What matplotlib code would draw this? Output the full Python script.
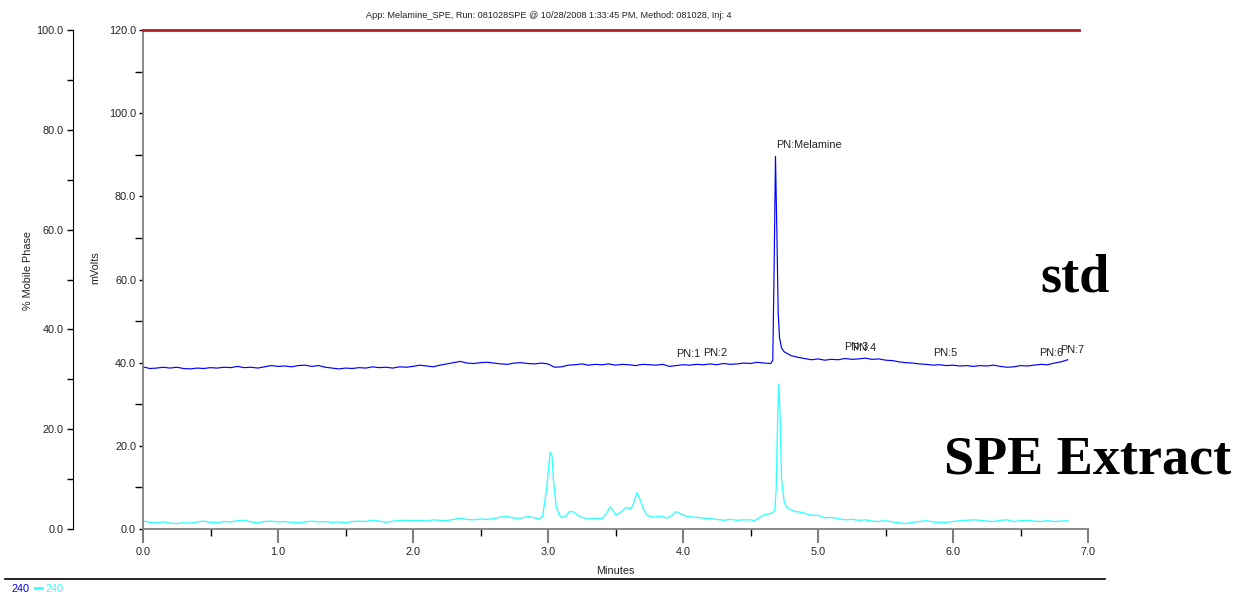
import matplotlib
matplotlib.use("Agg")
import matplotlib.pyplot as plt
import numpy as np
from matplotlib.lines import Line2D
from matplotlib.ticker import MultipleLocator, FormatStrFormatter

#--- data ---
std_time = [0.00, 0.05, 0.10, 0.15, 0.20, 0.25, 0.30, 0.35, 0.40, 0.45, 0.50, 0.55, 0.60, 0.65,
            0.70, 0.75, 0.80, 0.85, 0.90, 0.95, 1.00, 1.05, 1.10, 1.15, 1.20, 1.25, 1.30, 1.35,
            1.40, 1.45, 1.50, 1.55, 1.60, 1.65, 1.70, 1.75, 1.80, 1.85, 1.90, 1.95, 2.00, 2.05,
            2.10, 2.15, 2.20, 2.25, 2.30, 2.35, 2.40, 2.45, 2.50, 2.55, 2.60, 2.65, 2.70, 2.75,
            2.80, 2.85, 2.90, 2.95, 3.00, 3.03, 3.05, 3.10, 3.15, 3.20, 3.25, 3.30, 3.35, 3.40,
            3.45, 3.50, 3.55, 3.60, 3.65, 3.70, 3.75, 3.80, 3.85, 3.90, 3.95, 4.00, 4.05, 4.10,
            4.15, 4.20, 4.25, 4.30, 4.35, 4.40, 4.45, 4.50, 4.55, 4.60, 4.65, 4.665, 4.675, 4.685,
            4.695, 4.705, 4.715, 4.73, 4.75, 4.80, 4.85, 4.90, 4.95, 5.00, 5.05, 5.10, 5.15, 5.20,
            5.25, 5.30, 5.35, 5.40, 5.45, 5.50, 5.55, 5.60, 5.65, 5.70, 5.75, 5.80, 5.85, 5.90,
            5.95, 6.00, 6.05, 6.10, 6.15, 6.20, 6.25, 6.30, 6.35, 6.40, 6.45, 6.50, 6.55, 6.60,
            6.65, 6.70, 6.75, 6.80, 6.85]
std_mv = [39.0, 38.6, 38.7, 38.9, 38.7, 38.9, 38.6, 38.5, 38.7, 38.6, 38.8, 38.7, 38.9, 38.8,
          39.1, 38.8, 38.9, 38.7, 39.0, 39.3, 39.1, 39.2, 39.0, 39.3, 39.4, 39.1, 39.3, 38.9,
          38.7, 38.5, 38.7, 38.6, 38.8, 38.7, 39.0, 38.8, 38.9, 38.7, 39.0, 38.9, 39.1, 39.4,
          39.2, 39.0, 39.4, 39.7, 40.0, 40.3, 39.9, 39.8, 40.0, 40.1, 39.9, 39.7, 39.6, 39.9,
          40.0, 39.8, 39.7, 39.9, 39.7, 39.2, 38.9, 39.0, 39.4, 39.5, 39.7, 39.4, 39.6, 39.5,
          39.7, 39.4, 39.6, 39.5, 39.3, 39.6, 39.5, 39.4, 39.6, 39.1, 39.3, 39.5, 39.4, 39.6,
          39.5, 39.7, 39.5, 39.8, 39.6, 39.7, 39.9, 39.8, 40.1, 39.9, 39.8, 40.6, 63.0, 89.6,
          72.0, 52.0, 46.0, 43.5, 42.6, 41.7, 41.3, 41.0, 40.7, 40.9, 40.6, 40.8, 40.7, 41.0,
          40.8, 40.9, 41.1, 40.8, 40.9, 40.6, 40.5, 40.2, 40.0, 39.9, 39.7, 39.6, 39.4, 39.5,
          39.3, 39.4, 39.2, 39.3, 39.1, 39.3, 39.2, 39.4, 39.1, 38.9, 39.0, 39.3, 39.2, 39.4,
          39.6, 39.5, 39.9, 40.2, 40.7]

spe_time = [0.00, 0.05, 0.10, 0.15, 0.20, 0.25, 0.30, 0.35, 0.40, 0.45, 0.50, 0.55, 0.60, 0.65,
            0.70, 0.75, 0.80, 0.85, 0.90, 0.95, 1.00, 1.05, 1.10, 1.15, 1.20, 1.25, 1.30, 1.35,
            1.40, 1.45, 1.50, 1.55, 1.60, 1.65, 1.70, 1.75, 1.80, 1.85, 1.90, 1.95, 2.00, 2.05,
            2.10, 2.15, 2.20, 2.25, 2.30, 2.35, 2.40, 2.45, 2.50, 2.55, 2.60, 2.65, 2.70, 2.75,
            2.80, 2.85, 2.90, 2.93, 2.96, 2.99, 3.015, 3.03, 3.04, 3.06, 3.08, 3.10, 3.13, 3.16,
            3.19, 3.22, 3.25, 3.30, 3.35, 3.40, 3.43, 3.46, 3.48, 3.50, 3.53, 3.56, 3.58, 3.61,
            3.63, 3.66, 3.69, 3.71, 3.73, 3.76, 3.80, 3.84, 3.88, 3.92, 3.95, 3.98, 4.02, 4.06,
            4.10, 4.15, 4.20, 4.25, 4.30, 4.35, 4.40, 4.45, 4.50, 4.53, 4.56, 4.60, 4.63, 4.66,
            4.68, 4.69, 4.70, 4.71, 4.72, 4.73, 4.75, 4.77, 4.80, 4.83, 4.86, 4.90, 4.95, 5.00,
            5.05, 5.10, 5.15, 5.20, 5.25, 5.30, 5.35, 5.40, 5.45, 5.50, 5.55, 5.60, 5.65, 5.70,
            5.75, 5.80, 5.85, 5.90, 5.95, 6.00, 6.05, 6.10, 6.15, 6.20, 6.25, 6.30, 6.35, 6.40,
            6.45, 6.50, 6.55, 6.60, 6.65, 6.70, 6.75, 6.80, 6.85]
spe_mv = [1.9, 1.6, 1.5, 1.7, 1.4, 1.3, 1.5, 1.4, 1.7, 1.9, 1.6, 1.5, 1.8, 1.7,
          2.0, 2.1, 1.7, 1.5, 1.8, 1.9, 1.7, 1.8, 1.6, 1.5, 1.7, 1.9, 1.7, 1.8,
          1.6, 1.7, 1.5, 1.8, 1.9, 1.8, 2.1, 1.9, 1.6, 1.9, 2.0, 2.1, 2.0, 2.1,
          1.9, 2.2, 2.1, 2.0, 2.3, 2.6, 2.3, 2.2, 2.4, 2.3, 2.5, 2.9, 3.0, 2.6,
          2.6, 3.0, 2.7, 2.4, 3.0, 9.6, 18.4, 17.6, 12.0, 5.6, 3.6, 2.8, 3.0, 4.2,
          4.1, 3.3, 2.8, 2.4, 2.6, 2.5, 3.6, 5.3, 4.6, 3.4, 3.8, 4.6, 5.2, 4.8,
          5.8, 8.8, 6.4, 4.6, 3.5, 2.9, 2.9, 3.1, 2.6, 3.3, 4.2, 3.7, 3.1, 2.9,
          2.8, 2.6, 2.5, 2.3, 2.1, 2.3, 2.1, 2.2, 2.2, 2.0, 2.6, 3.4, 3.6, 3.8,
          4.5, 9.6, 25.0, 34.9, 26.0, 12.0, 6.4, 5.2, 4.6, 4.2, 4.1, 3.8, 3.3, 3.3,
          2.7, 2.8, 2.5, 2.2, 2.3, 2.1, 2.2, 1.9, 1.8, 2.0, 1.7, 1.5, 1.3, 1.6,
          1.8, 2.0, 1.7, 1.6, 1.6, 1.8, 2.0, 2.1, 2.2, 2.1, 1.9, 1.8, 2.1, 2.2,
          1.8, 2.0, 2.1, 1.9, 1.8, 2.0, 1.8, 1.9, 2.0]

mobile_time = [0.0, 6.93]
mobile_pct = [100.0, 100.0]

peak_names = ["PN:1", "PN:2", "PN:Melamine", "PN:3", "PN:4", "PN:5", "PN:6", "PN:7"]
peak_times = [3.95, 4.15, 4.69, 5.19, 5.25, 5.85, 6.64, 6.79]

title = "App: Melamine_SPE, Run: 081028SPE @ 10/28/2008 1:33:45 PM, Method: 081028, Inj: 4"

W, H = 1236, 595
fs = 7.8
txt_col = "#222222"

fig = plt.figure(figsize=(W / 100, H / 100), dpi=100)
ax = fig.add_axes([143 / W, 1 - 529 / H, (1088 - 143) / W, (529 - 30) / H])

ax.plot(std_time, std_mv, color="#0000ff", lw=0.85)
ax.plot(spe_time, spe_mv, color="#33ffff", lw=0.95)

# peak labels sit just above the highest point of the std trace near each peak
st = np.array(std_time)
sv = np.array(std_mv)
for name, t in zip(peak_names, peak_times):
    y = sv[np.abs(st - t) <= 0.03].max()
    ax.annotate(name, (t, y), xytext=(0, 8.5), textcoords="offset points",
                ha="left", va="center", fontsize=fs, color=txt_col,
                family="Liberation Sans")

ax.set_xlim(0, 7)
ax.set_ylim(0, 120)
for s in ["top", "right"]:
    ax.spines[s].set_visible(False)
for s in ["left", "bottom"]:
    ax.spines[s].set_color("#808080")
    ax.spines[s].set_linewidth(1.3)

ax.xaxis.set_major_locator(MultipleLocator(1))
ax.xaxis.set_minor_locator(MultipleLocator(0.5))
ax.xaxis.set_major_formatter(FormatStrFormatter("%.1f"))
ax.yaxis.set_major_locator(MultipleLocator(20))
ax.yaxis.set_minor_locator(MultipleLocator(10))
ax.yaxis.set_major_formatter(FormatStrFormatter("%.1f"))
ax.tick_params(axis="x", which="major", length=10, width=1.5, color="#808080", pad=3,
               labelsize=fs, labelcolor=txt_col)
ax.tick_params(axis="x", which="minor", length=5, width=1, color="black")
ax.tick_params(axis="y", which="major", length=3, width=1, color="black", pad=2,
               labelsize=fs, labelcolor=txt_col)
ax.tick_params(axis="y", which="minor", length=6, width=1, color="black")
for lab in ax.get_xticklabels() + ax.get_yticklabels():
    lab.set_family("Liberation Sans")

ax.set_ylabel("mVolts", fontsize=fs, color=txt_col, family="Liberation Sans")
ax.yaxis.set_label_coords(-43 / 945, (529 - 268) / 499)
ax.set_xlabel("Minutes", fontsize=fs, color=txt_col, family="Liberation Sans")
ax.xaxis.set_label_coords(0.5, -37 / 499)

# % mobile phase axis, pushed out to the left
ax2 = ax.twinx()
ax2.plot(mobile_time, mobile_pct, color="#b8202a", lw=2, clip_on=False)
ax2.set_ylim(0, 100)
for s in ["top", "right", "bottom"]:
    ax2.spines[s].set_visible(False)
ax2.spines["left"].set_visible(True)
ax2.spines["left"].set_position(("outward", 70 * 0.72))
ax2.spines["left"].set_color("black")
ax2.yaxis.set_ticks_position("left")
ax2.yaxis.set_label_position("left")
ax2.yaxis.set_major_locator(MultipleLocator(20))
ax2.yaxis.set_minor_locator(MultipleLocator(10))
ax2.yaxis.set_major_formatter(FormatStrFormatter("%.1f"))
ax2.tick_params(axis="y", which="both", length=4, width=1, color="black", pad=3,
                labelsize=fs, labelcolor=txt_col)
for lab in ax2.get_yticklabels():
    lab.set_family("Liberation Sans")
ax2.set_ylabel("% Mobile Phase", fontsize=fs, color=txt_col, family="Liberation Sans")
ax2.yaxis.set_label_coords(-110 / 945, (529 - 270) / 499)

fig.text(549 / W, 1 - 16 / H, title, ha="center", va="center", fontsize=6.6,
         color=txt_col, family="Liberation Sans")

fig.text(1075 / W, 1 - 278 / H, "std", ha="center", va="center", fontsize=39,
         weight="bold", family="Liberation Serif")
fig.text(1088 / W, 1 - 461 / H, "SPE Extract", ha="center", va="center", fontsize=39,
         weight="bold", family="Liberation Serif")

# footer rule and trace legend
fig.add_artist(Line2D([5 / W, 1105 / W], [1 - 579 / H] * 2, color="black", lw=1.2))
fig.text(12 / W, 1 - 589 / H, "240", ha="left", va="center", fontsize=fs,
         color="#0000ff", family="Liberation Sans")
fig.add_artist(Line2D([35 / W, 42 / W], [1 - 588 / H] * 2, color="#33ffff", lw=2))
fig.text(45 / W, 1 - 589 / H, "240", ha="left", va="center", fontsize=fs,
         color="#33ffff", family="Liberation Sans")

fig.savefig("out.png", dpi=100)
